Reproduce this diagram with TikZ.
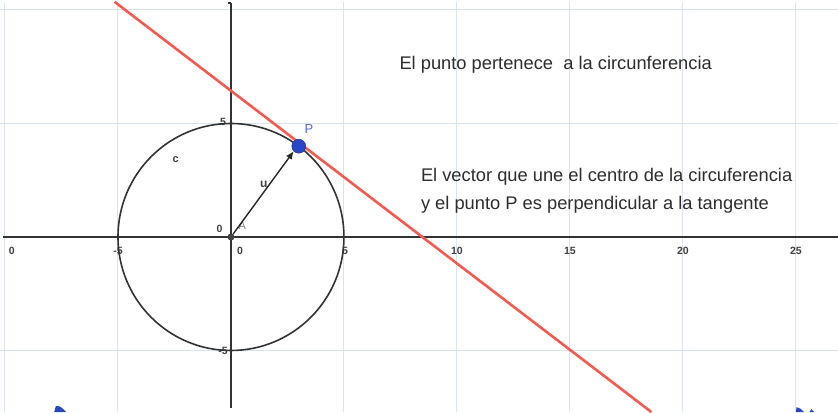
\documentclass[tikz,border=0pt]{standalone}
\usepackage{fontspec}
\setmainfont{Liberation Sans}
\usetikzlibrary{arrows.meta}
\definecolor{gridc}{RGB}{216,228,240}
\definecolor{redl}{RGB}{245,90,80}
\definecolor{bluep}{RGB}{40,70,200}
\definecolor{txt}{RGB}{45,45,45}
\tikzset{
  gridline/.style={gridc, line width=1pt},
  axis/.style={black!80, line width=2.4pt},
  tick/.style={font=\fontsize{10.5}{11}\selectfont\bfseries, text=black!75, inner sep=1pt},
  note/.style={font=\fontsize{18.3}{21}\selectfont, text=txt, align=left, inner sep=0pt, anchor=west}
}
\begin{document}
\begin{tikzpicture}[x=22.6pt, y=22.7pt]
\useasboundingbox[fill=white] (-10.22,-7.71) rectangle (26.86,10.44);
% grid
\foreach \gx in {-10,-5,5,10,15,20,25}
  \draw[gridline] (\gx,-7.71) -- (\gx,10.35);
\foreach \gy in {-5,5,10}
  \draw[gridline] (-10.22,\gy) -- (26.86,\gy);
% axes
\draw[axis] (-10.1,0) -- (26.86,0);
\draw[axis] (0,-7.55) -- (0,10.3);
\draw[axis, line width=1.4pt] (0,10.3) -- (-0.15,10.3);
% tick labels
\foreach \gx/\lab in {-10/0,-5/-5,10/10,15/15,20/20,25/25}
  \node[tick] at ({\gx+(\gx==-10)*0.3},-0.6) {\lab};
\node[tick] at (5.05,-0.6) {5};
\node[tick] at (0.4,-0.6) {0};
\node[tick] at (-0.5,0.35) {0};
\node[tick] at (-0.35,5.05) {5};
\node[tick] at (-0.35,-5.0) {-5};
% circle
\draw[black!80, line width=1.6pt] (0,0) circle (5);
\node[font=\fontsize{11}{12}\selectfont\bfseries, text=black!75] (c) at (-2.45,3.4) {c};
% tangent line
\coordinate (T1) at (-5.15,10.36);
\coordinate (T2) at (18.6,-7.71);
\draw[redl, line width=2.6pt] (T1) -- (T2);
% points
\node[circle, fill=black!75, inner sep=0pt, minimum size=7pt] (A) at (0,0) {};
\node[circle, fill=bluep, draw=bluep!70!black, inner sep=0pt, minimum size=14pt] (P) at (3,4) {};
\node[font=\fontsize{11}{12}\selectfont, text=gridc!55!black] at (0.5,0.5) {A};
\node[font=\fontsize{13}{14}\selectfont, text=bluep!80] at (3.45,4.75) {P};
% vector
\draw[black!85, line width=1.4pt, -{Latex[length=8pt,width=7pt]}] (A) -- (P.south west);
\node[font=\fontsize{12}{13}\selectfont\bfseries, text=black!75] (u) at (1.45,2.3) {u};
% notes
\node[note] (n1) at (7.45,7.6) {El punto pertenece\ \ a la circunferencia};
\node[note] (n2) at (8.4,2.65) {El vector que une el centro de la circuferencia};
\node[note] (n3) at (8.4,1.4) {y el punto P es perpendicular a la tangente};
% blue marks at bottom
\fill[bluep] (-7.82,-7.71) -- (-7.75,-7.45) .. controls (-7.55,-7.45) .. (-7.3,-7.71) -- cycle;
\fill[bluep] (25.0,-7.71) -- (25.02,-7.5) .. controls (25.2,-7.55) .. (25.35,-7.71) -- cycle;
\fill[bluep] (25.6,-7.71) -- (25.68,-7.58) -- (25.8,-7.71) -- cycle;
\end{tikzpicture}
\end{document}
